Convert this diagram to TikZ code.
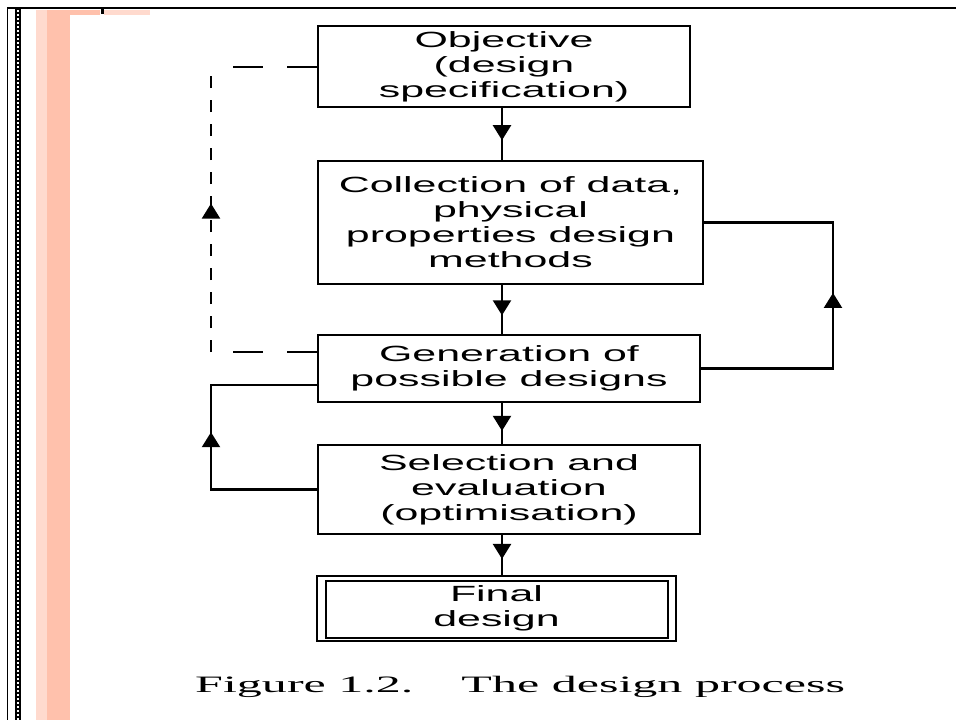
\documentclass[tikz,border=0pt]{standalone}
\usepackage{fontspec}
\usetikzlibrary{arrows.meta,decorations.markings,calc}
\newfontfamily\boxfont[FakeStretch=1.95]{Liberation Sans}
\newfontfamily\capfont[FakeStretch=2.13]{Liberation Serif}
\definecolor{pinkA}{RGB}{255,218,206}
\definecolor{pinkB}{RGB}{255,193,172}
\begin{document}
\begin{tikzpicture}[x=1pt,y=-1pt,
  box/.style={draw, line width=2.2pt, inner sep=0pt, align=center,
    font=\boxfont\fontsize{22}{25}\selectfont},
  conn/.style={line width=2.2pt},
  dconn/.style={line width=2pt},
  midarrow/.style={postaction=decorate, decoration={markings,
    mark=at position #1 with {\arrow{Triangle[width=18pt,length=15pt]}}}}]
\useasboundingbox (0,0) rectangle (956,720);
% page decoration
\fill[pinkA] (36,10) rectangle (47,720);
\fill[pinkB] (47,10) rectangle (70,720);
\fill[pinkB] (70,10) rectangle (100,15);
\fill[pinkA] (104,10) rectangle (150,15);
\draw[line width=2.5pt] (7,8) -- (956,8);
\draw[line width=1.5pt] (7.5,8) -- (7.5,720);
\fill[black] (15,8) rectangle (21,720);
\draw[white, line width=2pt, dash pattern=on 2pt off 2pt] (18,10) -- (18,720);
\fill[black] (101,8) rectangle (104,14);
% boxes
\node[box, minimum width=372pt, minimum height=81pt] (obj) at (504,66.5) {Objective\\(design\\specification)};
\node[box, minimum width=385pt, minimum height=123pt] (col) at (510.5,222.5) {Collection of data,\\physical\\properties design\\methods};
\node[box, minimum width=382pt, minimum height=67pt] (gen) at (509,368.5) {Generation of\\possible designs};
\node[box, minimum width=382pt, minimum height=89pt] (sel) at (509,489.5) {Selection and\\evaluation\\(optimisation)};
\node[box, minimum width=359pt, minimum height=65pt] (fin) at (496.5,608.5) {Final\\design};
\draw[line width=2.2pt] ($(fin.north west)+(10,6)$) rectangle ($(fin.south east)+(-9,-4)$);
% main flow
\coordinate (ax) at (502,0);
\draw[conn, midarrow=0.62] (obj.south -| ax) -- (col.north -| ax);
\draw[conn, midarrow=0.62] (col.south -| ax) -- (gen.north -| ax);
\draw[conn, midarrow=0.68] (gen.south -| ax) -- (sel.north -| ax);
\draw[conn, midarrow=0.6] (sel.south -| ax) -- (fin.north -| ax);
% right loop
\coordinate (rx) at (833,0);
\draw[conn, midarrow=0.51] (gen.east) -- (gen.east -| rx) -- (col.east -| rx) -- (col.east);
% left loop
\coordinate (lx) at (211,0);
\coordinate (gl) at ($(gen.west)+(0,16.5)$);
\draw[conn, midarrow=0.516] (sel.west) -- (sel.west -| lx) -- (gl -| lx) -- (gl);
% dashed loop
\coordinate (gd) at ($(gen.west)+(0,-16.5)$);
\coordinate (d1) at (gd -| lx);
\coordinate (d2) at (obj.west -| lx);
\draw[dconn, dash pattern=on 30pt off 24pt] (gd) -- (d1);
\draw[dconn, dash pattern=on 12pt off 12pt, midarrow=0.52] (d1) -- (d2);
\draw[dconn, dash pattern=on 30pt off 24pt] (obj.west) -- (d2);
% caption
\node[anchor=base west, inner sep=0pt, font=\capfont\fontsize{23.5}{24}\selectfont] (cap) at (195,692) {Figure 1.2.\hspace{48pt}The design process};
\end{tikzpicture}
\end{document}
